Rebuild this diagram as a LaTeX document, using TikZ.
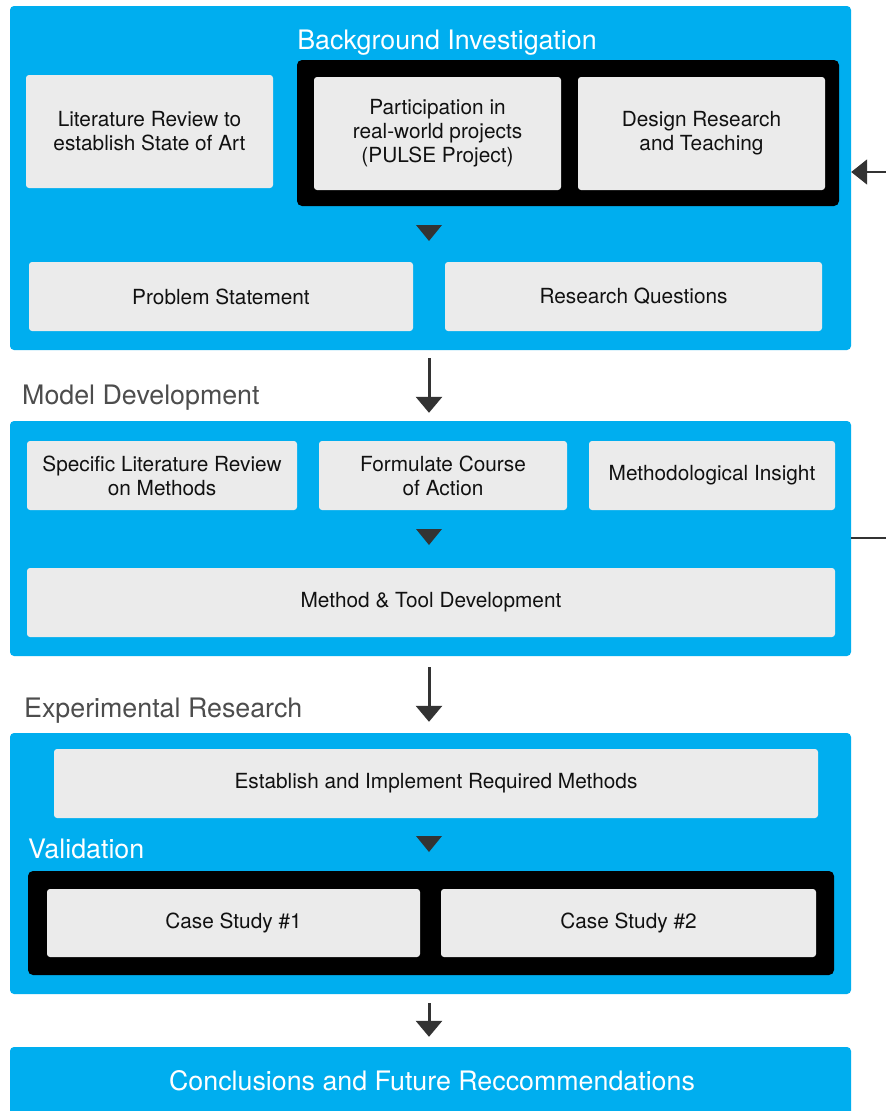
\documentclass[tikz,border=0pt]{standalone}
\usepackage{fontspec}
\setmainfont{TeX Gyre Heros}
\usetikzlibrary{arrows.meta,calc}
\definecolor{bluebg}{HTML}{00AEEF}
\definecolor{boxgray}{HTML}{EBEBEB}
\definecolor{darkarrow}{HTML}{333333}
\definecolor{labelgray}{HTML}{4D4D4D}
\definecolor{textdark}{HTML}{111111}
\tikzset{
  bluebox/.style={fill=bluebg, rounded corners=4pt, inner sep=0pt},
  blackbox/.style={fill=black, rounded corners=5pt, inner sep=0pt},
  gbox/.style={fill=boxgray, rounded corners=3pt, inner sep=0pt, align=center,
    text=textdark, font=\fontsize{20.8}{24}\selectfont},
  bigtitle/.style={inner sep=0pt, font=\fontsize{26.8}{30}\selectfont},
  mainarrow/.style={draw=darkarrow, line width=3pt,
    -{Triangle[width=26pt,length=16pt]}},
  sidearrow/.style={draw=darkarrow, line width=2pt,
    -{Triangle[width=25pt,length=16pt]}},
  sideline/.style={draw=darkarrow, line width=2pt},
  innertri/.style={fill=darkarrow},
}
\begin{document}
\begin{tikzpicture}[x=1pt,y=-1pt]
\useasboundingbox (0,0) rectangle (886,1111);
\fill[white] (0,0) rectangle (886,1111);

% ---------- Box 1: Background Investigation ----------
\node[bluebox, minimum width=841pt, minimum height=344pt] (b1) at (430.5,178) {};
\node[bigtitle, text=white, anchor=base] (t1) at (447,49) {Background Investigation};
\node[gbox, minimum width=247pt, minimum height=113pt] (lit) at (149.5,131.5)
  {Literature Review to\\establish State of Art};
\node[blackbox, minimum width=542pt, minimum height=146pt] (k1) at (568,133) {};
\node[gbox, minimum width=247pt, minimum height=113pt] (part) at (437.5,133.5)
  {Participation in\\real-world projects\\(PULSE Project)};
\node[gbox, minimum width=247pt, minimum height=113pt] (des) at (701.5,133.5)
  {Design Research\\and Teaching};
\fill[innertri] (416,225) -- (442,225) -- (429,241) -- cycle;
\node[gbox, minimum width=384pt, minimum height=69pt] (prob) at (221,296.5)
  {Problem Statement};
\node[gbox, minimum width=377pt, minimum height=69pt] (rq) at (633.5,296.5)
  {Research Questions};

% incoming arrow from the right
\coordinate (in1) at (886,172);
\draw[sidearrow] (in1) -- (in1 -| b1.east);

% ---------- Box 2: Model Development ----------
\node[bigtitle, text=labelgray, anchor=base west] (t2) at (22,404) {Model Development};
\node[bluebox, minimum width=841pt, minimum height=235pt] (b2) at (430.5,538.5) {};
\node[gbox, minimum width=270pt, minimum height=69pt] (spec) at (162,475.5)
  {Specific Literature Review\\on Methods};
\node[gbox, minimum width=248pt, minimum height=69pt] (form) at (443,475.5)
  {Formulate Course\\of Action};
\node[gbox, minimum width=246pt, minimum height=69pt] (meth) at (712,475.5)
  {Methodological Insight};
\fill[innertri] (416,529) -- (442,529) -- (429,545) -- cycle;
\node[gbox, minimum width=808pt, minimum height=69pt] (mtd) at (431,602.5)
  {Method \& Tool Development};

% outgoing line to the right
\coordinate (out2) at (886,538);
\draw[sideline] (b2.east |- out2) -- (out2);

% ---------- Box 3: Experimental Research ----------
\node[bigtitle, text=labelgray, anchor=base west] (t3) at (24,717) {Experimental Research};
\node[bluebox, minimum width=841pt, minimum height=261pt] (b3) at (430.5,863.5) {};
\node[gbox, minimum width=764pt, minimum height=69pt] (est) at (436,783.5)
  {Establish and Implement Required Methods};
\node[bigtitle, text=white, anchor=base west] (val) at (28,858) {Validation};
\fill[innertri] (416,836) -- (442,836) -- (429,852) -- cycle;
\node[blackbox, minimum width=806pt, minimum height=104pt] (k2) at (431,923) {};
\node[gbox, minimum width=373pt, minimum height=68pt] (cs1) at (233.5,923)
  {Case Study \#1};
\node[gbox, minimum width=375pt, minimum height=68pt] (cs2) at (628.5,923)
  {Case Study \#2};

% ---------- Box 4: Conclusions ----------
\node[bluebox, minimum width=841pt, minimum height=80pt] (b4) at (430.5,1087) {};
\node[bigtitle, text=white, anchor=base] (t4) at (432,1090)
  {Conclusions and Future Reccommendations};

% ---------- main arrows ----------
\coordinate (ax) at (429,0);
\draw[mainarrow, shorten <=8pt, shorten >=8pt] (ax |- b1.south) -- (ax |- b2.north);
\draw[mainarrow, shorten <=11pt, shorten >=11pt] (ax |- b2.south) -- (ax |- b3.north);
\draw[mainarrow, shorten <=9pt, shorten >=10pt] (ax |- b3.south) -- (ax |- b4.north);
\end{tikzpicture}
\end{document}
